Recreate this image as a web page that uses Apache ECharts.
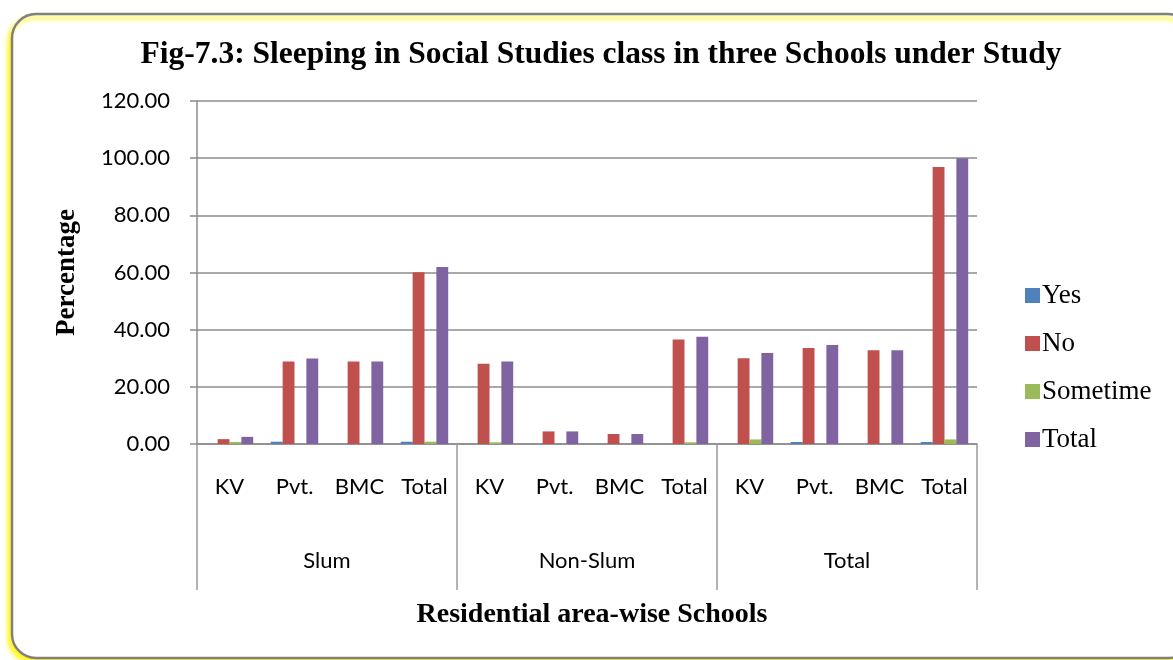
<!DOCTYPE html>
<html>
<head>
<meta charset="utf-8">
<title>Sleeping in Social Studies class</title>
<script src="https://cdn.jsdelivr.net/npm/echarts@6/dist/echarts.min.js"></script>
<style>
  html, body { margin: 0; padding: 0; background: #fff; }
  #chart { width: 1173px; height: 660px; }
</style>
</head>
<body>
<div id="chart"></div>
<script>
// School types within each residential area
const schools = ['KV', 'Pvt.', 'BMC', 'Total', 'KV', 'Pvt.', 'BMC', 'Total', 'KV', 'Pvt.', 'BMC', 'Total'];
// Residential areas (outer category level)
const areas = ['Slum', 'Non-Slum', 'Total'];
const yTicks = [0, 20, 40, 60, 80, 100, 120];

// Percentages per response
const yesVals      = [0, 0.8, 0, 0.8,   0, 0, 0, 0,        0, 0.7, 0, 0.7];
const noVals       = [1.7, 28.9, 28.9, 60.1,  28.1, 4.4, 3.5, 36.6,  30.0, 33.6, 32.8, 96.9];
const sometimeVals = [0.7, 0, 0, 0.8,   0.6, 0, 0, 0.6,    1.6, 0, 0, 1.6];
const totalVals    = [2.5, 29.9, 28.9, 61.9,  28.9, 4.4, 3.5, 37.5,  31.8, 34.6, 32.8, 100];

const seriesNames = ['Yes', 'No', 'Sometime', 'Total'];
const seriesColors = ['#4F81BD', '#C0504D', '#9BBB59', '#8064A2'];
const seriesData = [yesVals, noVals, sometimeVals, totalVals];

const sans = 'Lato, "Liberation Sans", sans-serif';
const serif = '"Liberation Serif", "DejaVu Serif", serif';

const chart = echarts.init(document.getElementById('chart'), null, { renderer: 'canvas' });

chart.setOption({
  backgroundColor: '#ffffff',
  animation: false,
  title: [
    {
      text: 'Fig-7.3: Sleeping in Social Studies class in three Schools under Study',
      left: 596, top: 34, textAlign: 'center',
      textStyle: { fontFamily: serif, fontWeight: 'bold', fontSize: 31.5, color: '#000' }
    },
    {
      text: 'Residential area-wise Schools',
      left: 587, top: 596, textAlign: 'center',
      textStyle: { fontFamily: serif, fontWeight: 'bold', fontSize: 28, color: '#000' }
    }
  ],
  graphic: [
    {
      type: 'rect',
      z: -10,
      silent: true,
      shape: { x: 12, y: 14, width: 1180, height: 644, r: 24 },
      style: {
        fill: '#ffffff',
        stroke: '#808080',
        lineWidth: 2.5,
        shadowColor: 'rgba(255,245,0,0.9)',
        shadowBlur: 4,
        shadowOffsetX: -3,
        shadowOffsetY: 4
      }
    }
  ],
  legend: {
    orient: 'vertical',
    left: 1020,
    top: 277,
    itemWidth: 15,
    itemHeight: 15,
    itemGap: 21,
    icon: 'rect',
    data: seriesNames,
    textStyle: { fontFamily: serif, fontSize: 27, color: '#000', padding: [0, 0, 0, -3] }
  },
  grid: { left: 197, right: 196, top: 101, bottom: 216, containLabel: false },
  xAxis: [
    {
      type: 'category',
      data: schools,
      axisLine: { lineStyle: { color: '#8c8c8c', width: 1.5 } },
      axisTick: { show: false },
      axisLabel: { margin: 32, fontFamily: sans, fontSize: 22, color: '#000', interval: 0 }
    },
    {
      type: 'category',
      data: areas,
      position: 'bottom',
      axisLine: { show: false },
      axisTick: { show: true, length: 146, lineStyle: { color: '#9a9a9a', width: 1.5 } },
      axisLabel: { margin: 106, fontFamily: sans, fontSize: 22, color: '#000', interval: 0 }
    }
  ],
  yAxis: {
    type: 'value',
    min: 0, max: 120, interval: 20,
    name: 'Percentage',
    nameLocation: 'middle',
    nameGap: 116,
    nameRotate: 90,
    nameTextStyle: { fontFamily: serif, fontWeight: 'bold', fontSize: 27, color: '#000' },
    axisLine: { show: true, lineStyle: { color: '#8c8c8c', width: 1.5 } },
    axisTick: { show: true, length: 7, lineStyle: { color: '#8c8c8c', width: 1.5 } },
    splitLine: { lineStyle: { color: '#8c8c8c', width: 1.5 } },
    axisLabel: {
      margin: 27, fontFamily: sans, fontSize: 22, color: '#000',
      formatter: v => yTicks.includes(v) ? v.toFixed(2) : ''
    }
  },
  series: seriesNames.map((name, i) => ({
    name,
    type: 'bar',
    xAxisIndex: 0,
    data: seriesData[i],
    barGap: '0%',
    barCategoryGap: '27%',
    itemStyle: { color: seriesColors[i] }
  }))
});
</script>
</body>
</html>
